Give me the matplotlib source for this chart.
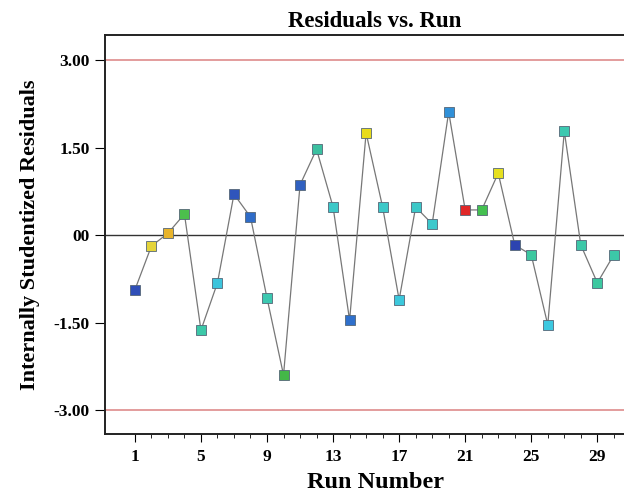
import matplotlib.pyplot as plt
import numpy as np

# run order and internally studentized residuals
runs = np.arange(1, 31)
residuals = [-0.94, -0.19, 0.03, 0.36, -1.63, -0.82, 0.70, 0.31, -1.08, -2.40,
             0.86, 1.47, 0.48, -1.46, 1.75, 0.48, -1.11, 0.48, 0.19, 2.11,
             0.43, 0.43, 1.06, -0.17, -0.34, -1.54, 1.78, -0.17, -0.82, -0.34]
colors = ['#2f4fb8', '#e4d43a', '#e8b42c', '#4cbf4c', '#3cc8a8', '#3cc4dc',
          '#2f55bc', '#2f6cc8', '#3cc8b0', '#44b848', '#3060c0', '#3cc0a0',
          '#3cc8c8', '#2f70cc', '#e8dc1c', '#3cc8c8', '#3cc8dc', '#3cc8c8',
          '#3cc8cc', '#3090d8', '#e02828', '#44c050', '#e6e020', '#2c44b0',
          '#3cc8a0', '#3cc8e0', '#3cc8b0', '#3cc8a8', '#3cc8a0', '#3cc8a8']
limit = 3.0
y_ticks = [3.0, 1.5, 0.0, -1.5, -3.0]
y_labels = ['3.00', '1.50', '00', '-1.50', '-3.00']
x_ticks = [1, 5, 9, 13, 17, 21, 25, 29]

plt.rcParams['font.family'] = ['Liberation Serif', 'DejaVu Serif']
plt.rcParams['font.weight'] = 'bold'

fig = plt.figure(figsize=(6.24, 4.92), dpi=100)
ax = fig.add_axes([0.168, 0.118, 0.866, 0.811])

ax.axhline(limit, color='#e09494', lw=1.3, zorder=1)
ax.axhline(-limit, color='#e09494', lw=1.3, zorder=1)
ax.axhline(0, color='#333333', lw=1.0, zorder=1)

ax.plot(runs, residuals, color='#777777', lw=0.9, zorder=2)
for r, v, c in zip(runs, residuals, colors):
    ax.plot(r, v, marker='s', markersize=7, markerfacecolor=c,
            markeredgecolor='#556677', markeredgewidth=0.6, zorder=3)

ax.set_xlim(-0.82, 31.9)
ax.set_ylim(-3.41, 3.43)
ax.set_yticks(y_ticks)
ax.set_yticklabels(y_labels)
ax.set_xticks(x_ticks)
ax.set_xticks(runs, minor=True)
ax.tick_params(axis='both', direction='out', labelsize=12.5, width=0.8)
ax.tick_params(axis='x', length=6, pad=5)
ax.tick_params(axis='x', which='minor', length=3)
ax.tick_params(axis='y', length=7, pad=4)
for lab in ax.get_xticklabels() + ax.get_yticklabels():
    lab.set_fontweight('bold')
for s in ax.spines.values():
    s.set_linewidth(1.4)
    s.set_color('#222222')

ax.set_title('Residuals vs. Run', fontsize=16.5, fontweight='bold', pad=6)
ax.set_xlabel('Run Number', fontsize=17.5, fontweight='bold', labelpad=5)
ax.set_ylabel('Internally Studentized Residuals', fontsize=16,
              fontweight='bold', labelpad=10)

fig.savefig('out.png', dpi=100)
